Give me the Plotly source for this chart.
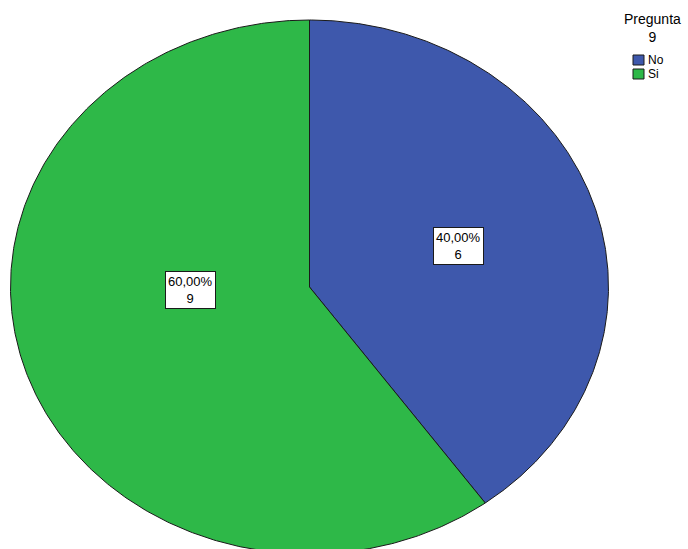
import numpy as np
import plotly.graph_objects as go

# Answers to question 9
categories = ["No", "Si"]
counts = [6, 9]
colors = ["#3E58AC", "#2EB848"]
legend_title = "Pregunta<br>9"

W, H = 688, 549
cx, cy = 309.5, 287.0      # pie centre (pixel units)
rx, ry = 299.0, 267.0      # elliptical pie radii
label_pos = [(458, 246), (190, 290)]
FONT = "Liberation Sans, Arial"

total = sum(counts)
fig = go.Figure()

start = 0.0
for cat, n, col, (lx, ly) in zip(categories, counts, colors, label_pos):
    frac = n / total
    theta = np.linspace(start, start + frac * 2 * np.pi, 400)  # clockwise from 12 o'clock
    xs = np.concatenate([[cx], cx + rx * np.sin(theta), [cx]])
    ys = np.concatenate([[cy], cy - ry * np.cos(theta), [cy]])
    fig.add_trace(go.Scatter(
        x=xs, y=ys, mode="lines", fill="toself", fillcolor=col,
        line=dict(color="#1a1a1a", width=1), name=cat, hoverinfo="name",
        showlegend=False,
    ))
    pct = f"{frac * 100:.2f}".replace(".", ",") + "%"
    fig.add_annotation(
        x=lx, y=ly, xref="x", yref="y", text=f"{pct}<br>{n}", showarrow=False,
        bgcolor="white", bordercolor="#1a1a1a", borderwidth=1, borderpad=2,
        font=dict(family=FONT, size=13, color="black"),
    )
    start += frac * 2 * np.pi

# Legend: title plus a swatch and label per category
fig.add_annotation(
    x=652, y=28, xref="x", yref="y", text=legend_title, showarrow=False,
    font=dict(family=FONT, size=14, color="black"), align="center",
)
for i, (cat, col) in enumerate(zip(categories, colors)):
    yc = 60 + i * 14
    fig.add_shape(type="rect", xref="x", yref="y",
                  x0=633, x1=644, y0=yc - 5, y1=yc + 5,
                  fillcolor=col, line=dict(color="#1a1a1a", width=1))
    fig.add_annotation(
        x=646, y=yc, xref="x", yref="y", text=cat, showarrow=False,
        xanchor="left", yanchor="middle",
        font=dict(family=FONT, size=12, color="black"),
    )

fig.update_layout(
    width=W, height=H, margin=dict(l=0, r=0, t=0, b=0),
    paper_bgcolor="white", plot_bgcolor="white",
    xaxis=dict(range=[0, W], visible=False, fixedrange=True),
    yaxis=dict(range=[H, 0], visible=False, fixedrange=True),
    showlegend=False,
)

fig.write_html("out.html")
